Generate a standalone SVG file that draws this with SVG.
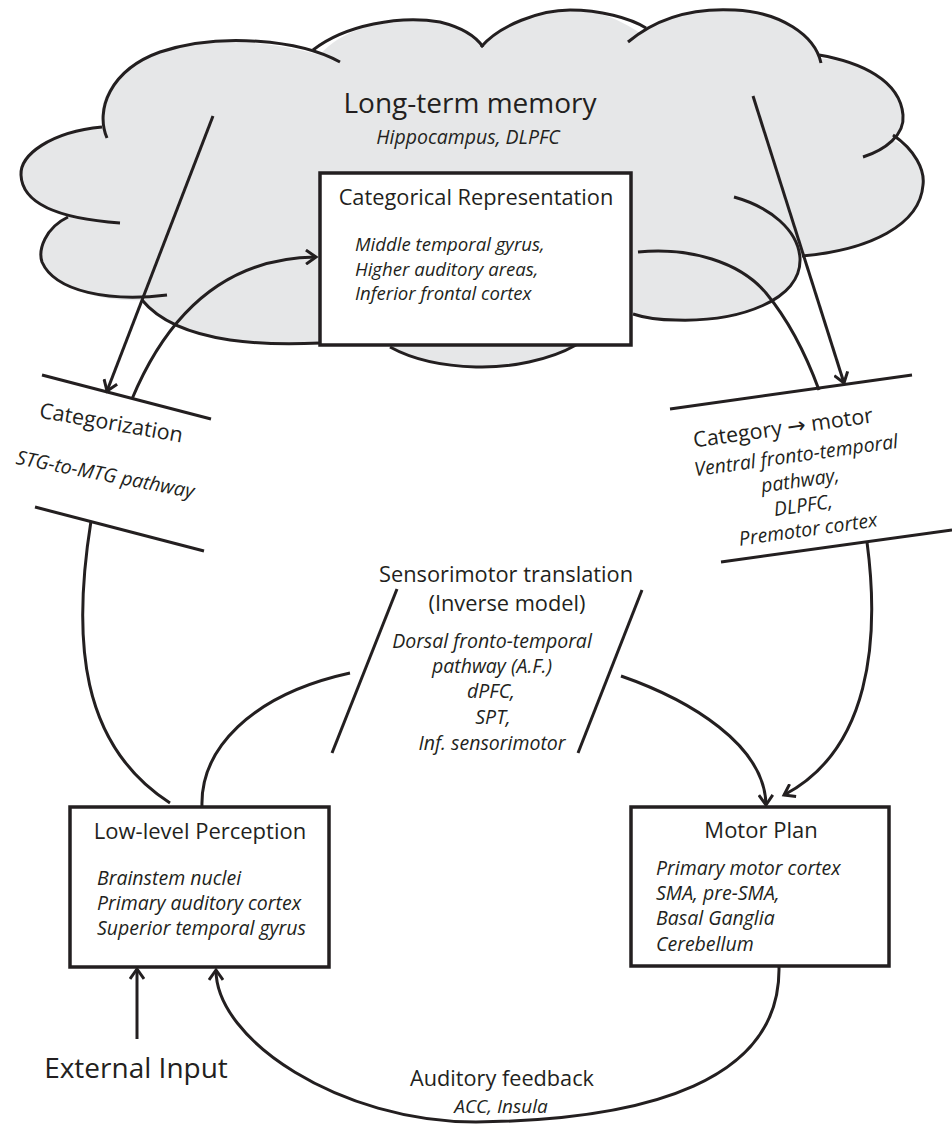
<svg xmlns="http://www.w3.org/2000/svg" width="952" height="1124" viewBox="0 0 952 1124">
<defs>
<style>
.ln{fill:none;stroke:#231f20;stroke-width:3;stroke-linecap:butt}
.cl{fill:none;stroke:#231f20;stroke-width:3}
.box{fill:#ffffff;stroke:#231f20;stroke-width:3.5}
.t{font-family:"Open Sans","Liberation Sans",sans-serif;fill:#231f20}
.i{font-family:"Open Sans","Liberation Sans",sans-serif;font-style:italic;fill:#231f20}
</style>
<marker id="arr" markerUnits="userSpaceOnUse" markerWidth="16" markerHeight="16" refX="12" refY="8" orient="auto" viewBox="0 0 16 16">
<path d="M2,1 L12,8 L2,15" fill="none" stroke="#231f20" stroke-width="3"/>
</marker>
</defs>
<rect width="952" height="1124" fill="#ffffff"/>

<g id="ltm">
<path fill="#e6e7e8" stroke="none" d="M104,130 C95,105 110,70 160,52 C200,38 260,38 320,55 C345,25 400,15 440,22 C460,27 475,35 483,44 C500,25 540,10 570,10 C600,10 620,20 640,33 C665,14 700,8 735,10 C780,12 815,35 820,58 C860,62 900,80 903,115 C905,128 900,135 893,140 C915,150 925,170 923,185 C920,225 870,250 801,256 C802,300 740,322 676,320 C655,320 640,318 631,314 L631,345 L576,345 C550,360 510,368 476,367 C440,366 410,358 390,345 L320,345 C280,344 230,342 205,336 C180,330 160,320 142,300 C110,302 55,292 42,262 C38,250 45,228 68,217 C50,212 22,200 21,175 C20,155 50,132 104,127 Z"/>
<path class="cl" d="M107,138 C95,110 110,70 160,52 C220,32 300,40 340,62"/>
<path class="cl" d="M313,50 C345,25 400,15 440,22 C460,27 475,35 483,47"/>
<path class="cl" d="M481,47 C500,25 540,10 570,10 C600,10 630,18 646,28"/>
<path class="cl" d="M628,42 C660,15 700,8 735,10 C780,12 815,35 821,63"/>
<path class="cl" d="M819,55 C860,62 900,80 903,115 C905,135 885,150 863,157"/>
<path class="cl" d="M893,135 C915,150 925,170 923,185 C920,225 870,250 802,256"/>
<path class="cl" d="M734,197 C770,207 798,230 800,258 C802,300 740,322 676,320 C660,320 645,318 633,314"/>
<path class="cl" d="M576,345 C550,360 510,368 476,367 C440,366 410,358 390,347"/>
<path class="cl" d="M142,300 C160,322 190,334 230,340 C265,345 300,344 320,343"/>
<path class="cl" d="M68,217 C45,228 38,250 42,262 C55,292 110,302 167,295"/>
<path class="cl" d="M102,127 C50,132 20,155 21,175 C22,200 50,218 120,223"/>
<text class="t" x="470" y="113" font-size="28" text-anchor="middle">Long-term memory</text>
<text class="i" x="468" y="144" font-size="19.5" text-anchor="middle">Hippocampus, DLPFC</text>
</g>

<g id="categorical">
<rect class="box" x="320" y="173" width="311" height="172"/>
<text class="t" x="476" y="205" font-size="21.8" text-anchor="middle">Categorical Representation</text>
<text class="i" font-size="18.6"><tspan x="355" y="251">Middle temporal gyrus,</tspan><tspan x="355" y="275.5">Higher auditory areas,</tspan><tspan x="355" y="300">Inferior frontal cortex</tspan></text>
</g>

<g id="categorization">
<line class="ln" x1="42" y1="375" x2="211" y2="419"/>
<line class="ln" x1="35" y1="507" x2="204" y2="551"/>
<text class="t" font-size="21.5" text-anchor="middle" transform="translate(110,430) rotate(10)">Categorization</text>
<text class="i" font-size="19.5" text-anchor="middle" transform="translate(104,481) rotate(11)">STG-to-MTG pathway</text>
</g>

<g id="category-motor">
<line class="ln" x1="670" y1="409" x2="912" y2="375"/>
<line class="ln" x1="721" y1="562" x2="952" y2="530"/>
<text class="t" font-size="21.5" text-anchor="middle" transform="translate(784,435) rotate(-8)">Category <tspan font-family="'DejaVu Sans',sans-serif" font-size="22">→</tspan> motor</text>
<text class="i" font-size="19.5" text-anchor="middle" transform="translate(797,462) rotate(-8)">Ventral fronto-temporal</text>
<text class="i" font-size="19.5" text-anchor="middle" transform="translate(801,487) rotate(-8)">pathway,</text>
<text class="i" font-size="19.5" text-anchor="middle" transform="translate(804,512) rotate(-8)">DLPFC,</text>
<text class="i" font-size="19.5" text-anchor="middle" transform="translate(809,536) rotate(-8)">Premotor cortex</text>
</g>

<g id="sensorimotor">
<line class="ln" x1="397" y1="589" x2="332" y2="753"/>
<line class="ln" x1="642" y1="590" x2="578" y2="753"/>
<text class="t" font-size="21.8" text-anchor="middle"><tspan x="506" y="582">Sensorimotor translation</tspan><tspan x="507" y="611">(Inverse model)</tspan></text>
<text class="i" font-size="19.5" text-anchor="middle"><tspan x="492" y="648">Dorsal fronto-temporal</tspan><tspan x="492" y="673">pathway (A.F.)</tspan><tspan x="491" y="698">dPFC,</tspan><tspan x="493" y="724">SPT,</tspan><tspan x="492" y="750">Inf. sensorimotor</tspan></text>
</g>

<g id="lowlevel">
<rect class="box" x="70" y="807" width="259" height="160"/>
<text class="t" x="200" y="839" font-size="22" text-anchor="middle">Low-level Perception</text>
<text class="i" font-size="19.5"><tspan x="97" y="885">Brainstem nuclei</tspan><tspan x="97" y="910">Primary auditory cortex</tspan><tspan x="97" y="935">Superior temporal gyrus</tspan></text>
</g>

<g id="motorplan">
<rect class="box" x="631" y="807" width="258" height="159"/>
<text class="t" x="761" y="838" font-size="22" text-anchor="middle">Motor Plan</text>
<text class="i" font-size="19.5"><tspan x="656" y="875">Primary motor cortex</tspan><tspan x="656" y="900">SMA, pre-SMA,</tspan><tspan x="656" y="925">Basal Ganglia</tspan><tspan x="656" y="951">Cerebellum</tspan></text>
</g>

<g id="external">
<text class="t" x="136" y="1078" font-size="28" text-anchor="middle">External Input</text>
</g>

<g id="feedback-label">
<text class="t" x="502" y="1086" font-size="21.7" text-anchor="middle">Auditory feedback</text>
<text class="i" x="501" y="1113" font-size="19" text-anchor="middle">ACC, Insula</text>
</g>

<g id="connectors">
<path class="ln" d="M213,116 L107,391" marker-end="url(#arr)"/>
<path class="ln" d="M132,399 C165,320 220,258 316,257" marker-end="url(#arr)"/>
<path class="ln" d="M91,521 C72,640 80,745 170,803"/>
<path class="ln" d="M202,807 C200,750 250,695 350,673"/>
<path class="ln" d="M753,96 L844,383" marker-end="url(#arr)"/>
<path class="ln" d="M638,252 C690,247 740,262 766,293 C790,322 808,360 819,390"/>
<path class="ln" d="M621,676 C690,700 765,745 766,805" marker-end="url(#arr)"/>
<path class="ln" d="M867,542 C880,640 870,750 784,795" marker-end="url(#arr)"/>
<path class="ln" d="M137,1039 L137,969" marker-end="url(#arr)"/>
<path class="ln" d="M779,967 C781,1080 650,1120 476,1122 C340,1122 216,1040 216,970" marker-end="url(#arr)"/>
</g>
</svg>
